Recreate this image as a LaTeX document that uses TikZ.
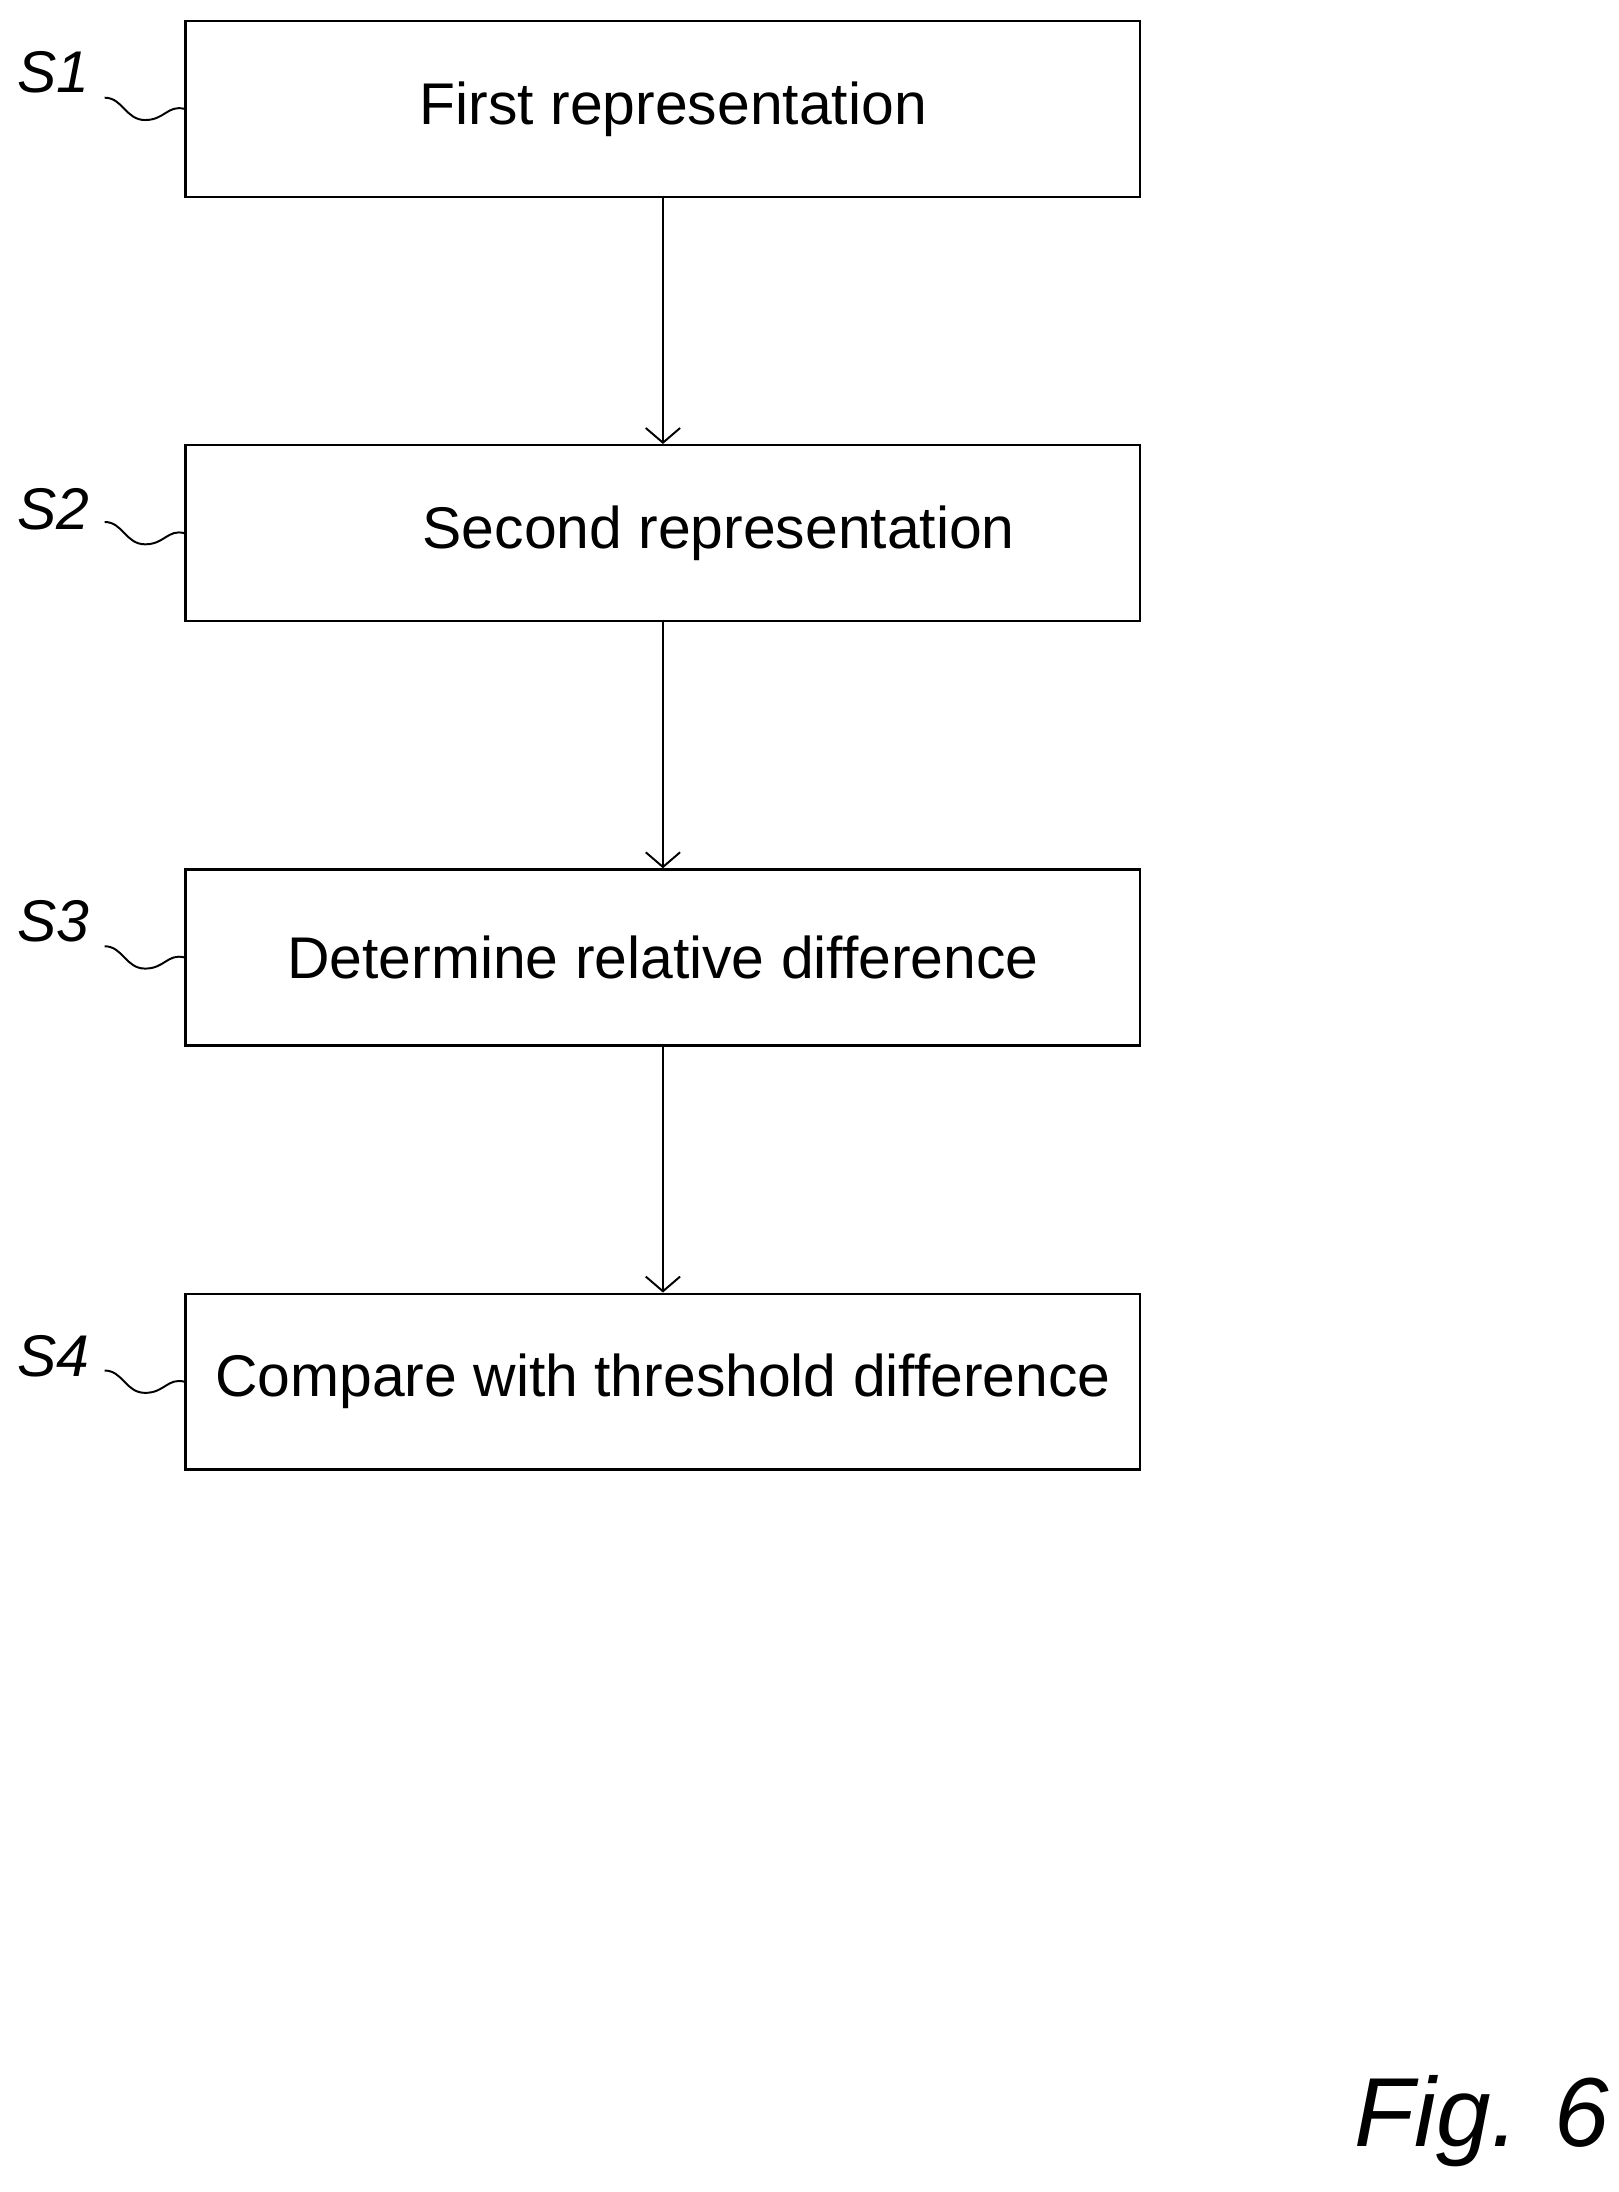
\documentclass[tikz,border=0pt]{standalone}
\usepackage{fontspec}
\setmainfont{Liberation Sans}
\usetikzlibrary{arrows.meta,positioning}
\tikzset{
  stepbox/.style={draw, line width=1pt, minimum width=13.68cm, minimum height=2.52cm, inner sep=0pt, font=\fontsize{24}{28}\selectfont},
  steplabel/.style={font=\fontsize{24}{28}\selectfont\itshape},
  flow/.style={-{Straight Barb[length=6pt,width=14pt]}, line width=0.8pt},
}
\begin{document}
\begin{tikzpicture}[x=0.02cm,y=-0.02cm]
\useasboundingbox (0,0) rectangle (1160,1570.6);
% steps
\node[stepbox] (s1) at (475,78) {\hspace{0.3cm}First representation};
\node[stepbox] (s2) at (475,382) {\hspace{1.6cm}Second representation\hspace{0.7cm}};
\node[stepbox] (s3) at (475,686) {Determine relative difference};
\node[stepbox] (s4) at (475,990) {Compare with threshold difference};
% arrows
\draw[flow] (s1) -- (s2);
\draw[flow] (s2) -- (s3);
\draw[flow] (s3) -- (s4);
% labels
\foreach \n/\y/\c in {1/52/78, 2/365/382, 3/660/686, 4/972/990} {
  \node[steplabel] (l\n) at (38,\y) {S\n};
  \coordinate (w\n) at (75,\c-8);
  \draw[line width=0.8pt] (w\n) .. controls (88,\c-8) and (90,\c+8) .. (104,\c+8)
     .. controls (118,\c+8) and (120,\c-3) .. (s\n.west);
}
\node[font=\fontsize{40}{46}\selectfont\itshape, anchor=base] (fig) at (1062,1538) {Fig. 6};
\end{tikzpicture}
\end{document}
